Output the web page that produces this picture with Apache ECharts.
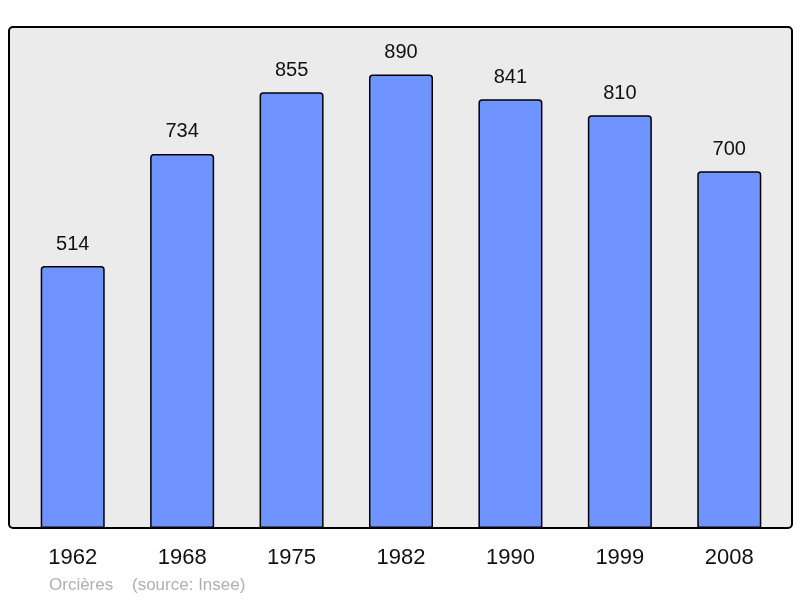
<!DOCTYPE html>
<html><head><meta charset="utf-8">
<script src="https://cdn.jsdelivr.net/npm/echarts@6/dist/echarts.min.js"></script>
<style>html,body{margin:0;padding:0;background:#fff}#c{width:800px;height:598px}</style>
</head><body><div id="c"></div>
<script>
const years = ['1962','1968','1975','1982','1990','1999','2008'];
const population = [514,734,855,890,841,810,700];
const placeName = 'Orcières';
const sourceText = '(source: Insee)';

const chart = echarts.init(document.getElementById('c'));
chart.setOption({
  animation:false,
  textStyle:{fontFamily:'Liberation Sans, Arial, sans-serif'},
  graphic:[
    {type:'rect', z:0, shape:{x:9,y:27,width:783,height:501,r:4},
     style:{fill:'#ebebeb',stroke:'#000',lineWidth:2}},
    {type:'text', left:49, top:577, z:5,
     style:{text:placeName, fill:'#b0b0b0', font:'17px "Liberation Sans", Arial, sans-serif'}},
    {type:'text', left:132, top:577, z:5,
     style:{text:sourceText, fill:'#b0b0b0', font:'17px "Liberation Sans", Arial, sans-serif'}}
  ],
  grid:{left:18,right:16,top:28,bottom:70},
  xAxis:{type:'category',data:years,
    axisLine:{show:false},axisTick:{show:false},
    axisLabel:{fontSize:22,color:'#111',margin:19}},
  yAxis:{type:'value',min:0,max:981,show:false,splitLine:{show:false}},
  series:[{type:'bar',data:population,barWidth:'58.5%',z:2,
    itemStyle:{color:'#7094ff',borderColor:'#000',borderWidth:1.5,borderRadius:[3,3,0,0]},
    label:{show:true,position:'top',distance:12,fontSize:20,color:'#111'}}]
});
</script></body></html>
